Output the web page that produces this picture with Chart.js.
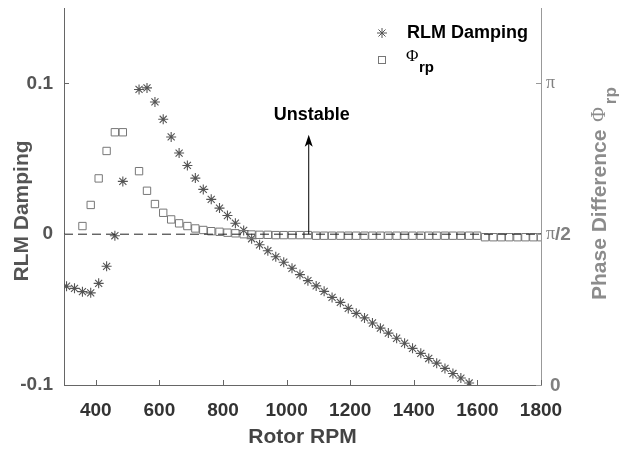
<!DOCTYPE html>
<html>
<head>
<meta charset="utf-8">
<script src="https://cdn.jsdelivr.net/npm/chart.js@4"></script>
<style>
  html, body { margin: 0; padding: 0; background: #fff; }
  #wrap { width: 621px; height: 450px; }
</style>
</head>
<body>
<div id="wrap"><canvas id="chart" width="621" height="450"></canvas></div>
<script>
// rotor speed (RPM) of each damping sample
const rpm = [308, 333, 358, 384, 409, 434, 460, 485,
  536, 561, 586, 612, 637, 662, 688, 713, 738, 763,
  789, 814, 839, 865, 890, 915, 941, 966, 991, 1017,
  1042, 1067, 1093, 1118, 1143, 1169, 1194, 1219, 1245, 1270,
  1295, 1320, 1346, 1371, 1396, 1422, 1447, 1472, 1498, 1523,
  1548, 1574];
const damping = [-0.0345, -0.0359, -0.0381, -0.0389, -0.0326, -0.0213, -0.001, 0.035,
  0.096, 0.097, 0.0877, 0.0762, 0.0645, 0.0538, 0.0456, 0.0372, 0.0297, 0.0231,
  0.0173, 0.0124, 0.0073, 0.0025, -0.003, -0.007, -0.011, -0.015, -0.0186, -0.0226,
  -0.0268, -0.0308, -0.0343, -0.0379, -0.0419, -0.0452, -0.0492, -0.0525, -0.0555, -0.0589,
  -0.0623, -0.0656, -0.069, -0.0723, -0.0757, -0.079, -0.0824, -0.0855, -0.089, -0.0924,
  -0.0954, -0.0987];

// phase difference, in units of pi
const phaseRpm = [358, 384, 409, 434, 460, 485,
  536, 561, 586, 612, 637, 662, 688, 713, 738, 763,
  789, 814, 839, 865, 890, 915, 941, 966, 991, 1017,
  1042, 1067, 1093, 1118, 1143, 1169, 1194, 1219, 1245, 1270,
  1295, 1320, 1346, 1371, 1396, 1422, 1447, 1472, 1498, 1523,
  1548, 1574, 1599, 1624, 1650, 1675, 1700, 1726, 1751, 1776, 1800];
const phase = [0.527, 0.597, 0.685, 0.776, 0.838, 0.838,
  0.709, 0.644, 0.600, 0.571, 0.549, 0.536, 0.527, 0.519, 0.514, 0.510,
  0.508, 0.505, 0.503, 0.500, 0.499, 0.498, 0.498, 0.497, 0.497, 0.497,
  0.497, 0.497, 0.495, 0.495, 0.495, 0.495, 0.495, 0.495, 0.495, 0.495,
  0.495, 0.495, 0.495, 0.495, 0.495, 0.495, 0.495, 0.495, 0.495, 0.495,
  0.495, 0.495, 0.495, 0.490, 0.490, 0.490, 0.490, 0.490, 0.490, 0.490, 0.490];

const xTicks = [400, 600, 800, 1000, 1200, 1400, 1600, 1800];
const yTicks = [-0.1, 0, 0.1];
const phaseTicks = [0, 0.5, 1];
const phaseTickLabels = ["0", "\u03c0/2", "\u03c0"];

const arrowRpm = 1068;
const arrowTop = 0.066;
const noteRpm = 1079;
const noteY = 0.079;

const FONT = "'Liberation Sans', Arial, sans-serif";
const SERIF = "'Liberation Serif', 'Times New Roman', serif";

const zeroLine = [{ x: 300, y: 0 }, { x: 1800, y: 0 }];

function bold(size) { return "bold " + size + "px " + FONT; }

const extras = {
  id: "extras",
  afterDatasetsDraw(chart) {
    const ctx = chart.ctx;
    const x = chart.scales.x, y = chart.scales.y;
    // arrow
    const ax = x.getPixelForValue(arrowRpm);
    const y0 = y.getPixelForValue(0), y1 = y.getPixelForValue(arrowTop);
    ctx.save();
    ctx.strokeStyle = "#000";
    ctx.fillStyle = "#000";
    ctx.lineWidth = 1;
    ctx.beginPath();
    ctx.moveTo(ax + 0.5, y0);
    ctx.lineTo(ax + 0.5, y1 + 6);
    ctx.stroke();
    ctx.beginPath();
    ctx.moveTo(ax + 0.5, y1);
    ctx.lineTo(ax - 3.5, y1 + 12);
    ctx.lineTo(ax + 0.5, y1 + 9);
    ctx.lineTo(ax + 4.5, y1 + 12);
    ctx.closePath();
    ctx.fill();
    ctx.font = bold(18);
    ctx.textAlign = "center";
    ctx.textBaseline = "middle";
    ctx.fillText("Unstable", x.getPixelForValue(noteRpm), y.getPixelForValue(noteY));
    ctx.restore();
  },
  afterDraw(chart) {
    const ctx = chart.ctx;
    const x = chart.scales.x, y = chart.scales.y, y2 = chart.scales.y2;
    const area = chart.chartArea;
    ctx.save();
    ctx.lineWidth = 1;
    // inward tick marks
    ctx.strokeStyle = "#666";
    xTicks.forEach(v => {
      const px = Math.round(x.getPixelForValue(v)) + 0.5;
      ctx.beginPath(); ctx.moveTo(px, area.bottom); ctx.lineTo(px, area.bottom - 5); ctx.stroke();
    });
    yTicks.forEach(v => {
      const py = Math.round(y.getPixelForValue(v)) + 0.5;
      ctx.beginPath(); ctx.moveTo(area.left, py); ctx.lineTo(area.left + 5, py); ctx.stroke();
    });
    ctx.strokeStyle = "#999";
    phaseTicks.forEach(v => {
      const py = Math.round(y2.getPixelForValue(v)) + 0.5;
      ctx.beginPath(); ctx.moveTo(area.right, py); ctx.lineTo(area.right - 5, py); ctx.stroke();
    });

    // right tick labels (pi in serif)
    ctx.fillStyle = "#808080";
    ctx.textBaseline = "middle";
    ctx.textAlign = "left";
    phaseTicks.forEach((v, i) => {
      const py = y2.getPixelForValue(v);
      const lab = phaseTickLabels[i];
      let px = area.right + 5;
      if (lab === "0") {
        ctx.font = bold(19);
        ctx.fillText("0", px + 4, py + 1);
        return;
      }
      ctx.font = "18px " + SERIF;
      ctx.fillText("\u03c0", px, py);
      px += ctx.measureText("\u03c0").width;
      if (lab.length > 1) {
        ctx.font = bold(19);
        ctx.fillText("/2", px, py + 1);
      }
    });

    // axis titles
    ctx.fillStyle = "#555";
    ctx.font = bold(21);
    ctx.textAlign = "center";
    ctx.save();
    ctx.translate(22, 211);
    ctx.rotate(-Math.PI / 2);
    ctx.fillText("RLM Damping", 0, 0);
    ctx.restore();

    ctx.fillStyle = "#444";
    ctx.font = bold(21);
    ctx.fillText("Rotor RPM", (area.left + area.right) / 2, 437);

    ctx.fillStyle = "#8c8c8c";
    ctx.save();
    ctx.translate(600, 300);
    ctx.rotate(-Math.PI / 2);
    ctx.textAlign = "left";
    ctx.font = bold(21);
    ctx.fillText("Phase Difference ", 0, 0);
    let w = ctx.measureText("Phase Difference ").width;
    ctx.font = "20px " + SERIF;
    ctx.fillText("\u03a6", w + 2, 0);
    w += ctx.measureText("\u03a6").width + 5;
    ctx.font = bold(17);
    ctx.fillText("rp", w, 11);
    ctx.restore();

    // legend
    const lx = 382, ly1 = 33, ly2 = 60;
    ctx.strokeStyle = "#555";
    ctx.lineWidth = 1;
    ctx.beginPath();
    for (let a = 0; a < 4; a++) {
      const t = a * Math.PI / 4;
      ctx.moveTo(lx - 5 * Math.cos(t), ly1 - 5 * Math.sin(t));
      ctx.lineTo(lx + 5 * Math.cos(t), ly1 + 5 * Math.sin(t));
    }
    ctx.stroke();
    ctx.strokeStyle = "#777";
    ctx.strokeRect(lx - 3.5, ly2 - 3.5, 7, 7);
    ctx.fillStyle = "#000";
    ctx.textAlign = "left";
    ctx.font = bold(18);
    ctx.fillText("RLM Damping", 407, ly1);
    ctx.font = "17px " + SERIF;
    ctx.fillText("\u03a6", 406, ly2 - 3);
    ctx.font = bold(15);
    ctx.fillText("rp", 419, ly2 + 8);
    ctx.restore();
  }
};

new Chart(document.getElementById("chart"), {
  type: "scatter",
  data: {
    datasets: [
      {
        label: "zero",
        data: zeroLine,
        showLine: true,
        borderColor: "#222",
        borderWidth: 1,
        borderDash: [9, 5],
        pointRadius: 0,
        yAxisID: "y"
      },
      {
        label: "Phi_rp",
        data: phaseRpm.map((r, i) => ({ x: r, y: phase[i] })),
        pointStyle: "rect",
        pointRadius: 5.2,
        borderColor: "#777",
        backgroundColor: "rgba(0,0,0,0)",
        borderWidth: 1,
        yAxisID: "y2"
      },
      {
        label: "RLM Damping",
        data: rpm.map((r, i) => ({ x: r, y: damping[i] })),
        pointStyle: "star",
        pointRadius: 5,
        borderColor: "#555",
        backgroundColor: "#555",
        borderWidth: 1.1,
        yAxisID: "y"
      }
    ]
  },
  options: {
    responsive: false,
    animation: false,
    layout: { padding: { top: 8, left: 0, right: 0, bottom: 0 } },
    plugins: {
      legend: { display: false },
      tooltip: { enabled: false }
    },
    scales: {
      x: {
        type: "linear",
        min: 300,
        max: 1800,
        afterBuildTicks: s => { s.ticks = xTicks.map(v => ({ value: v })); },
        afterFit: s => { s.height = 65; s.paddingLeft = 0; s.paddingRight = 0; },
        grid: { display: false, drawTicks: false },
        border: { display: true, color: "#666", width: 1 },
        ticks: {
          color: "#333",
          font: { family: FONT, size: 19, weight: "bold" },
          padding: 14,
          maxRotation: 0,
          callback: v => String(v)
        }
      },
      y: {
        position: "left",
        min: -0.1,
        max: 0.15,
        afterBuildTicks: s => { s.ticks = yTicks.map(v => ({ value: v })); },
        afterFit: s => { s.width = 64; s.paddingTop = 0; s.paddingBottom = 0; },
        grid: { display: false, drawTicks: false },
        border: { display: true, color: "#666", width: 1 },
        ticks: {
          color: "#555",
          font: { family: FONT, size: 19, weight: "bold" },
          padding: 11,
          callback: v => (v === 0 ? "0" : String(v))
        }
      },
      y2: {
        position: "right",
        min: 0,
        max: 1.25,
        afterBuildTicks: s => { s.ticks = phaseTicks.map(v => ({ value: v })); },
        afterFit: s => { s.width = 80; s.paddingTop = 0; s.paddingBottom = 0; },
        grid: { display: false, drawTicks: false },
        border: { display: true, color: "#999", width: 1 },
        ticks: { display: false }
      }
    }
  },
  plugins: [extras]
});
</script>
</body>
</html>
